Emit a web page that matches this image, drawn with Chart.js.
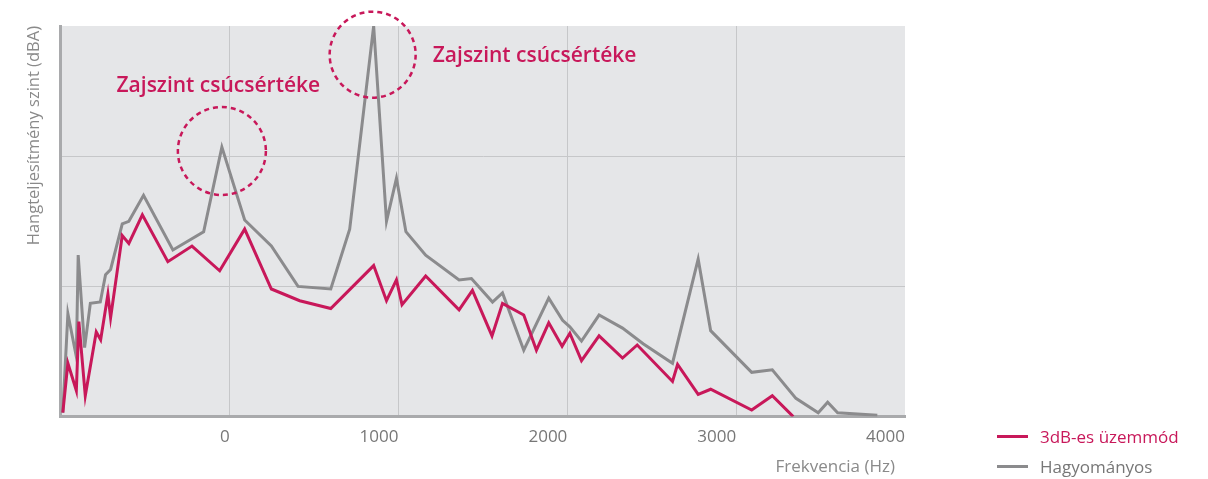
<!DOCTYPE html>
<html>
<head>
<meta charset="utf-8">
<script src="https://cdn.jsdelivr.net/npm/chart.js@4/dist/chart.umd.min.js"></script>
<style>
    html, body { margin: 0; padding: 0; background: #fff; }
    #wrap { position: relative; width: 1208px; height: 479px; }
    #legend { position: absolute; left: 997px; top: 421px; font-family: "Open Sans", sans-serif; font-size: 17px; }
    .item { display: flex; align-items: center; height: 30px; }
    .swatch { width: 31px; height: 3px; margin-right: 12px; }
</style>
</head>
<body>
<div id="wrap">
    <canvas id="chart" width="1208" height="479"></canvas>
    <div id="legend"></div>
</div>
<script>
// Frequency (Hz) / level readings for the conventional mode
const grayX = [-988, -958, -908, -897, -859, -825, -766, -735, -705, -636, -597, -510, -336, -154, -46, 89, 247, 405, 599, 711, 853, 929, 988, 1044, 1161, 1359, 1432, 1557, 1616, 1742, 1890, 1972, 2015, 2084, 2188, 2327, 2449, 2623, 2775, 2849, 3092, 3214, 3354, 3486, 3542, 3601, 3836];
const grayY = [0.3, 7.9, 4.6, 12.4, 5.3, 8.7, 8.8, 10.9, 11.3, 14.8, 15.0, 17.0, 12.8, 14.2, 20.7, 15.1, 13.1, 10.0, 9.8, 14.4, 30.0, 15.0, 18.3, 14.2, 12.4, 10.5, 10.6, 8.8, 9.5, 5.1, 9.1, 7.4, 6.9, 5.8, 7.8, 6.8, 5.6, 4.1, 12.1, 6.6, 3.4, 3.6, 1.4, 0.3, 1.1, 0.3, 0.1];

// Readings for the 3dB mode
const redX = [-988, -958, -908, -893, -855, -790, -764, -721, -705, -636, -597, -517, -366, -223, -59, 89, 247, 415, 599, 853, 929, 988, 1021, 1161, 1359, 1438, 1554, 1616, 1742, 1817, 1890, 1969, 2015, 2084, 2188, 2327, 2414, 2623, 2653, 2775, 2849, 3092, 3214, 3338];
const redY = [0.3, 4.1, 2.0, 7.3, 1.6, 6.5, 5.9, 9.4, 7.6, 13.9, 13.3, 15.5, 11.9, 13.1, 11.2, 14.4, 9.8, 8.9, 8.3, 11.6, 8.9, 10.5, 8.6, 10.8, 8.2, 9.7, 6.2, 8.7, 7.8, 5.1, 7.2, 5.4, 6.4, 4.3, 6.2, 4.5, 5.5, 2.7, 4.0, 1.7, 2.1, 0.5, 1.6, 0];

const xTicks = [0, 1000, 2000, 3000, 4000];
const seriesNames = ['3dB-es üzemmód', 'Hagyományos'];
const peakLabel = 'Zajszint csúcsértéke';
const xTitle = 'Frekvencia (Hz)';

const RED = '#c8185a';
const GRAY = '#8b8b8d';
const GRID = '#c6c7c9';

// background of the plot area
const plotBg = {
    id: 'plotBg',
    beforeDraw(chart) {
        const a = chart.chartArea;
        const ctx = chart.ctx;
        ctx.save();
        ctx.fillStyle = '#e5e6e8';
        ctx.fillRect(a.left, a.top, a.right - a.left, a.bottom - a.top);
        ctx.restore();
    }
};

// dashed circles around the peaks + their captions
const peaks = {
    id: 'peaks',
    afterDatasetsDraw(chart) {
        const ctx = chart.ctx;
        const xs = chart.scales.x, ys = chart.scales.y;
        const marks = [
            { x: -46, y: 20.4, r: 44, tx: -670, ty: 25.4 },
            { x: 847, y: 27.8, r: 43, tx: 1203, ty: 27.7 }
        ];
        ctx.save();
        marks.forEach(m => {
            ctx.beginPath();
            ctx.setLineDash([5, 4]);
            ctx.lineWidth = 2.5;
            ctx.strokeStyle = RED;
            ctx.arc(xs.getPixelForValue(m.x), ys.getPixelForValue(m.y), m.r, 0, Math.PI * 2);
            ctx.stroke();
            ctx.setLineDash([]);
            ctx.fillStyle = RED;
            ctx.font = '600 21px "Open Sans", sans-serif';
            ctx.textBaseline = 'middle';
            ctx.textAlign = 'left';
            ctx.fillText(peakLabel, xs.getPixelForValue(m.tx), ys.getPixelForValue(m.ty));
        });
        // x axis title sits a little inside the right edge
        const a = chart.chartArea;
        ctx.fillStyle = '#8a8a8a';
        ctx.font = '17px "Open Sans", sans-serif';
        ctx.textAlign = 'right';
        ctx.fillText(xTitle, a.right - 10, a.bottom + 51);
        ctx.restore();
    }
};

const toPoints = (xs, ys) => xs.map((x, i) => ({ x: x, y: ys[i] }));

new Chart(document.getElementById('chart'), {
    type: 'line',
    data: {
        datasets: [{
            label: seriesNames[0],
            data: toPoints(redX, redY),
            borderColor: RED,
            borderWidth: 3,
            pointRadius: 0,
            tension: 0,
            order: 0
        }, {
            label: seriesNames[1],
            data: toPoints(grayX, grayY),
            borderColor: GRAY,
            borderWidth: 3,
            pointRadius: 0,
            tension: 0,
            order: 1
        }]
    },
    options: {
        responsive: false,
        animation: false,
        layout: { padding: { left: 24, right: 303, top: 26, bottom: 22 } },
        plugins: {
            legend: { display: false },
            tooltip: { enabled: false }
        },
        scales: {
            x: {
                type: 'linear',
                min: -1000,
                max: 4000,
                afterBuildTicks: axis => {
                    axis.ticks = [-1000].concat(xTicks).map(v => ({ value: v }));
                },
                ticks: {
                    align: 'end',
                    padding: 10,
                    color: '#777',
                    font: { family: '"Open Sans", sans-serif', size: 17 },
                    callback: v => (xTicks.includes(v) ? String(v) : '')
                },
                grid: {
                    color: c => (c.tick && c.tick.value === 4000 ? 'rgba(0,0,0,0)' : GRID),
                    drawTicks: false
                },
                border: { color: '#a9aaac', width: 3 }
            },
            y: {
                min: 0,
                max: 30,
                ticks: { display: false, stepSize: 10 },
                grid: {
                    color: c => (c.tick && c.tick.value === 30 ? 'rgba(0,0,0,0)' : GRID),
                    drawTicks: false
                },
                border: { color: '#a9aaac', width: 3 },
                title: {
                    display: true,
                    text: 'Hangteljesítmény szint (dBA)',
                    align: 'end',
                    color: '#8a8a8a',
                    font: { family: '"Open Sans", sans-serif', size: 16.5 },
                    padding: { top: 0, bottom: 17 }
                }
            }
        }
    },
    plugins: [plotBg, peaks]
});

// legend to the right of the plot
const legend = document.getElementById('legend');
[[seriesNames[0], RED, RED], [seriesNames[1], GRAY, '#777']].forEach(([name, line, text]) => {
    const row = document.createElement('div');
    row.className = 'item';
    row.innerHTML = `<span class="swatch" style="background:${line}"></span><span style="color:${text}">${name}</span>`;
    legend.appendChild(row);
});
</script>
</body>
</html>
